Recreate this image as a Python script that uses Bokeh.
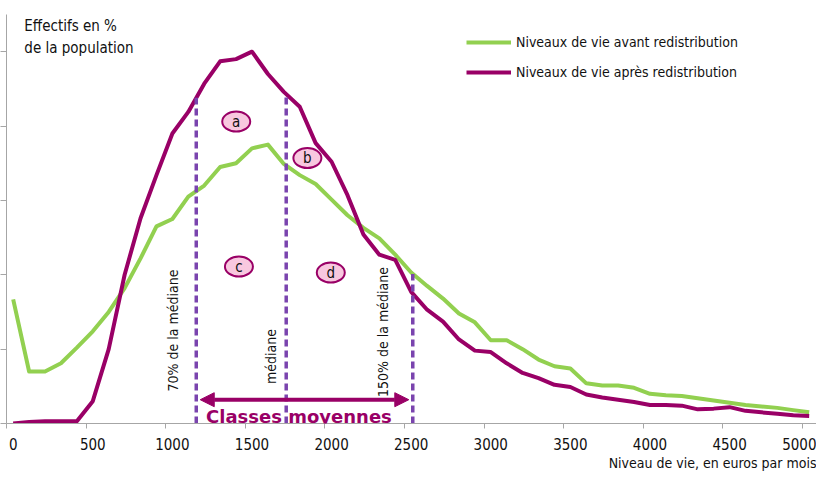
import numpy as np
from bokeh.plotting import figure
from bokeh.models import (Range1d, LinearAxis, FixedTicker, Legend, LegendItem,
                          Label, Arrow, NormalHead, Title)
from bokeh.core.properties import value
from bokeh.embed import file_html
from bokeh.resources import INLINE

# ---------------- data ----------------
revenu = list(range(0, 5001, 100))  # niveau de vie, euros par mois

avant = [1.67, 0.70, 0.70, 0.81, 1.02, 1.24, 1.50, 1.82, 2.22, 2.65,
         2.75, 3.05, 3.20, 3.45, 3.50, 3.70, 3.75, 3.49, 3.34, 3.22,
         3.01, 2.80, 2.63, 2.49, 2.27, 2.03, 1.85, 1.68, 1.48, 1.36,
         1.12, 1.12, 1.00, 0.86, 0.77, 0.74, 0.54, 0.51, 0.51, 0.48,
         0.40, 0.38, 0.37, 0.34, 0.31, 0.28, 0.25, 0.23, 0.21, 0.18,
         0.15]

apres = [0.00, 0.02, 0.03, 0.03, 0.03, 0.30, 1.00, 2.00, 2.76, 3.34,
         3.90, 4.19, 4.57, 4.87, 4.90, 5.00, 4.70, 4.46, 4.26, 3.77,
         3.52, 3.07, 2.54, 2.27, 2.20, 1.77, 1.53, 1.37, 1.13, 0.98,
         0.96, 0.81, 0.68, 0.61, 0.52, 0.49, 0.39, 0.35, 0.32, 0.29,
         0.25, 0.25, 0.24, 0.19, 0.20, 0.22, 0.17, 0.15, 0.13, 0.11,
         0.10]

x_labels = [0, 500, 1000, 1500, 2000, 2500, 3000, 3500, 4000, 4500, 5000]
y_ticks = [0, 1, 2, 3, 4, 5]

seuils_x = [1150, 1715, 2510]
seuils_noms = ["70% de la médiane", "médiane", "150% de la médiane"]
seuils_lab_x = [1003, 1621, 2324]
seuils_lab_y = [1.25, 0.90, 1.23]

zones = ["a", "b", "c", "d"]
zones_x = [1401, 1848, 1418, 1995]
zones_y = [4.06, 3.57, 2.11, 2.03]

# ---------------- styles ----------------
GREEN = "#92d050"
PURPLE = "#990066"
VIOLET = "#7a44ae"
PINK = "#f8c8df"
AXIS = "#a6a6a6"
FONT = "DejaVu Sans Condensed, Liberation Sans"
TXT = "#111111"

X0, X1 = -42, 5046
p = figure(width=816, height=474, output_backend="svg", toolbar_location=None,
           x_range=Range1d(X0, X1), y_range=Range1d(0, 5.5),
           min_border_left=5, min_border_right=0, min_border_top=14,
           min_border_bottom=51)
p.grid.visible = False
p.outline_line_color = None
p.background_fill_color = "white"

# y axis: tick marks only (minor ticks carry no labels)
ya = p.yaxis[0]
ya.ticker = FixedTicker(ticks=[], minor_ticks=y_ticks)
ya.major_label_standoff = 0
ya.axis_label_standoff = 0
ya.minor_tick_out = 6
ya.minor_tick_in = 0
ya.major_tick_line_color = None
ya.axis_line_color = AXIS
ya.minor_tick_line_color = AXIS

# x axis: tick marks between categories
tick_offset = -42
xa = p.xaxis[0]
xa.ticker = FixedTicker(ticks=[], minor_ticks=[t + tick_offset for t in x_labels])
xa.major_label_standoff = 0
xa.axis_label_standoff = 0
xa.minor_tick_out = 5
xa.minor_tick_in = 0
xa.major_tick_line_color = None
xa.axis_line_color = AXIS
xa.minor_tick_line_color = AXIS

# x axis labels
xl = LinearAxis(ticker=FixedTicker(ticks=x_labels), axis_line_color=None,
                major_tick_line_color=None, minor_tick_line_color=None,
                major_tick_out=0, major_tick_in=0, major_label_standoff=9,
                axis_label_standoff=0,
                major_label_text_font=FONT, major_label_text_font_size="15px",
                major_label_text_color=TXT)
p.add_layout(xl, "below")

# x axis title, right aligned under the axis
p.add_layout(Title(text="Niveau de vie, en euros par mois", align="right",
                   text_font=FONT, text_font_size="14px", text_font_style="normal",
                   text_color=TXT, standoff=0), "below")

# curves
r_av = p.line(revenu, avant, color=GREEN, line_width=4, line_join="round")
r_ap = p.line(revenu, apres, color=PURPLE, line_width=4, line_join="round")

# threshold dashed lines (up to the highest curve)
tops = [float(max(np.interp(s, revenu, avant), np.interp(s, revenu, apres))) for s in seuils_x]
p.segment(x0=seuils_x, y0=[0] * 3, x1=seuils_x, y1=tops, line_color=VIOLET,
          line_width=3.5, line_dash="7 4")

# vertical texts
p.text(x=seuils_lab_x, y=seuils_lab_y, text=seuils_noms, angle=np.pi / 2,
       text_align="center", text_baseline="middle", text_font=value(FONT),
       text_font_size="14px", text_color=TXT)

# zone markers
p.ellipse(x=zones_x, y=zones_y, width=28, height=20, width_units="screen",
          height_units="screen", fill_color=PINK, line_color=PURPLE, line_width=2)
p.text(x=zones_x, y=zones_y, text=zones, text_align="center", text_baseline="middle",
       text_font=value(FONT), text_font_size="15px", text_color=TXT)

# Classes moyennes arrow
arrow_y = 0.32
p.add_layout(Arrow(x_start=seuils_x[0] + 25, y_start=arrow_y,
                   x_end=seuils_x[2] - 25, y_end=arrow_y,
                   line_color=PURPLE, line_width=4,
                   start=NormalHead(size=14, fill_color=PURPLE, line_color=PURPLE),
                   end=NormalHead(size=14, fill_color=PURPLE, line_color=PURPLE)))
p.add_layout(Label(x=1795, y=0.09, text="Classes moyennes", text_align="center",
                   text_baseline="alphabetic", text_font="DejaVu Sans",
                   text_font_style="bold", text_font_size="18px", text_color=PURPLE))

# y axis title
p.add_layout(Label(x=70, y=5.47, text="Effectifs en %", text_baseline="top",
                   text_font=FONT, text_font_size="15px", text_color=TXT))
p.add_layout(Label(x=70, y=5.17, text="de la population", text_baseline="top",
                   text_font=FONT, text_font_size="15px", text_color=TXT))

legend = Legend(items=[LegendItem(label="Niveaux de vie avant redistribution", renderers=[r_av]),
                       LegendItem(label="Niveaux de vie après redistribution", renderers=[r_ap])],
                location=(460, 341), glyph_width=45, glyph_height=20, label_height=20,
                label_standoff=5, spacing=10, padding=0, margin=0,
                border_line_color=None, background_fill_alpha=0,
                label_text_font=FONT, label_text_font_size="14px", label_text_color=TXT)
p.add_layout(legend)

open("out.html", "w").write(file_html(p, INLINE))
